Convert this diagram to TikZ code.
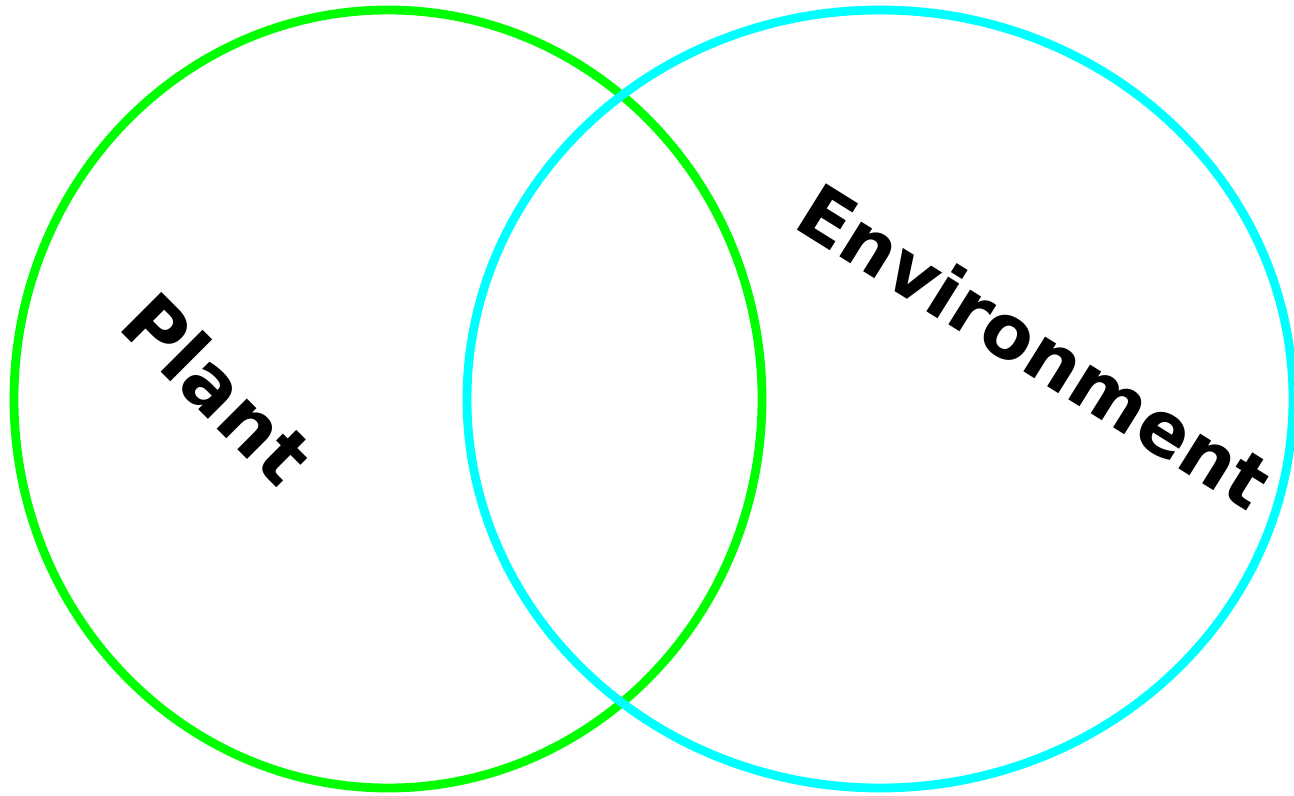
\documentclass[tikz,border=0pt]{standalone}
\usepackage{fontspec}
\setmainfont{DejaVu Sans}
\usetikzlibrary{positioning}
\definecolor{pgreen}{HTML}{00FF00}
\definecolor{ecyan}{HTML}{00FFFF}

\begin{document}
\begin{tikzpicture}[x=0.5pt, y=-0.5pt]
  \tikzset{
    ring/.style={line width=4.4pt},
    vlabel/.style={font=\fontsize{39}{44}\selectfont\bfseries, text=black, inner sep=0pt}
  }
  \useasboundingbox (0,0) rectangle (1294,796);

  %% Sets
  \draw[ring, pgreen] (388,399) ellipse [x radius=374, y radius=389];
  \draw[ring, ecyan] (880,399) ellipse [x radius=413, y radius=389];

  %% Labels
  \node[vlabel, rotate=-45] (plant) at (218,388) {Plant};
  \node[vlabel, font=\fontsize{37.5}{42}\selectfont\bfseries, rotate=-32] (env) at (1035,346) {Environment};

\end{tikzpicture}
\end{document}
